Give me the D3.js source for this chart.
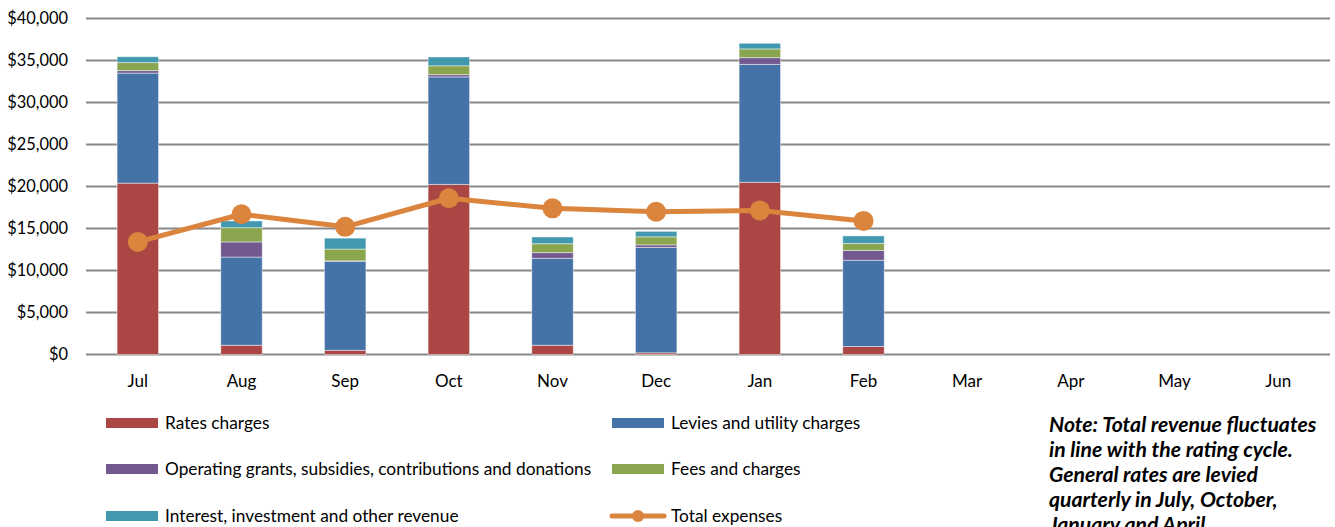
<!DOCTYPE html>
<html>
<head>
<meta charset="utf-8">
<script src="https://cdn.jsdelivr.net/npm/d3@7"></script>
<style>
  html, body { margin: 0; padding: 0; background: #fff; }
  svg { display: block; }
  text { font-family: Lato, "Open Sans", sans-serif; fill: #000; }
</style>
</head>
<body>
<svg id="chart" width="1335" height="527"></svg>
<script>
const months = ["Jul","Aug","Sep","Oct","Nov","Dec","Jan","Feb","Mar","Apr","May","Jun"];
const seriesNames = ["Rates charges","Levies and utility charges","Operating grants, subsidies, contributions and donations","Fees and charges","Interest, investment and other revenue"];
const ratesCharges   = [20400, 1100,  500, 20250, 1100,  200, 20500,  950, 0, 0, 0, 0];
const leviesUtility  = [13100,10500,10600, 12800,10350,12540, 14040,10270, 0, 0, 0, 0];
const operatingGrants= [  300, 1800,   50,   270,  680,  310,   800, 1160, 0, 0, 0, 0];
const feesCharges    = [  950, 1700, 1400,  1050, 1060,  960,  1040,  840, 0, 0, 0, 0];
const interestOther  = [  700,  800, 1300,  1050,  800,  650,   670,  900, 0, 0, 0, 0];
const totalExpenses  = [13400,16700,15200, 18600,17400,17000, 17150,15900, null, null, null, null];
const yTicks = [0,5000,10000,15000,20000,25000,30000,35000,40000];
const colors = ["#AA4643","#4572A7","#71588F","#89A54E","#4198AF"];
const lineColor = "#DB843D";
const noteLines = ["Note: Total revenue fluctuates","in line with the rating cycle.","General rates are levied","quarterly in July, October,","January and April."];

const svg = d3.select("#chart");
const pLeft = 86, pRight = 1330, pTop = 18.5, pBottom = 354.5;

const x = d3.scaleBand().domain(months).range([pLeft, pRight]).paddingInner(0.6).paddingOuter(0.3);
const y = d3.scaleLinear().domain([0, 40000]).range([pBottom, pTop]);

// gridlines
svg.append("g").selectAll("line").data(yTicks).join("line")
  .attr("x1", pLeft).attr("x2", pRight)
  .attr("y1", d => y(d)).attr("y2", d => y(d))
  .attr("stroke", "#878787").attr("stroke-width", 2);

// y axis labels
const yAxis = d3.axisLeft(y).tickValues(yTicks).tickSize(0).tickPadding(18)
  .tickFormat(d => "$" + d3.format(",")(d));
const gy = svg.append("g").attr("transform", `translate(${pLeft},0)`).call(yAxis);
gy.select(".domain").remove();
gy.selectAll("text").style("font-size", "16.4px").style("font-family", "Lato, sans-serif").attr("fill", "#000");

// x axis labels
const xAxis = d3.axisBottom(x).tickSize(0).tickPadding(20);
const gx = svg.append("g").attr("transform", `translate(0,${pBottom})`).call(xAxis);
gx.select(".domain").remove();
gx.selectAll("text").style("font-size", "17px").style("font-family", "Lato, sans-serif").attr("fill", "#000");

// stacked bars
const table = months.map((m, i) => ({
  month: m,
  s0: ratesCharges[i], s1: leviesUtility[i], s2: operatingGrants[i], s3: feesCharges[i], s4: interestOther[i]
}));
const stack = d3.stack().keys(["s0","s1","s2","s3","s4"])(table);
svg.append("g").selectAll("g").data(stack).join("g")
  .attr("fill", (d, i) => colors[i])
  .selectAll("rect").data(d => d.filter(p => p[1] - p[0] > 0)).join("rect")
  .attr("x", d => x(d.data.month))
  .attr("width", x.bandwidth())
  .attr("y", d => y(d[1]))
  .attr("height", d => y(d[0]) - y(d[1]))
  .attr("stroke", "rgba(255,255,255,0.45)")
  .attr("stroke-width", 1);

// expense line
const pts = months.map((m, i) => ({ m, v: totalExpenses[i] })).filter(d => d.v != null);
const line = d3.line().x(d => x(d.m) + x.bandwidth() / 2).y(d => y(d.v));
svg.append("path").datum(pts).attr("d", line)
  .attr("fill", "none").attr("stroke", lineColor).attr("stroke-width", 5).attr("stroke-linejoin", "round");
svg.append("g").selectAll("circle").data(pts).join("circle")
  .attr("cx", d => x(d.m) + x.bandwidth() / 2).attr("cy", d => y(d.v)).attr("r", 10)
  .attr("fill", lineColor);

// legend
const legendItems = [
  { name: seriesNames[0], color: colors[0], col: 0, row: 0 },
  { name: seriesNames[1], color: colors[1], col: 1, row: 0 },
  { name: seriesNames[2], color: colors[2], col: 0, row: 1 },
  { name: seriesNames[3], color: colors[3], col: 1, row: 1 },
  { name: seriesNames[4], color: colors[4], col: 0, row: 2 },
  { name: "Total expenses", color: lineColor, col: 1, row: 2, line: true }
];
const colX = [106, 612], rowY = [423, 469, 516];
const lg = svg.append("g").selectAll("g").data(legendItems).join("g")
  .attr("transform", d => `translate(${colX[d.col]},${rowY[d.row]})`);
lg.filter(d => !d.line).append("rect")
  .attr("x", 0).attr("y", -5).attr("width", 52).attr("height", 10).attr("fill", d => d.color);
const ll = lg.filter(d => d.line);
ll.append("line").attr("x1", 0).attr("x2", 52).attr("y1", 0).attr("y2", 0)
  .attr("stroke", lineColor).attr("stroke-width", 5).attr("stroke-linecap", "round");
ll.append("circle").attr("cx", 26).attr("cy", 0).attr("r", 6).attr("fill", lineColor);
lg.append("text").attr("x", 59).attr("y", 0).attr("dy", "0.35em")
  .style("font-size", "17.3px").text(d => d.name);

// note
svg.append("g").selectAll("text").data(noteLines).join("text")
  .attr("x", 1049).attr("y", (d, i) => 425 + i * 25).attr("dy", "0.35em")
  .style("font-size", "21.2px").style("font-weight", "bold").style("font-style", "italic")
  .text(d => d);
</script>
</body>
</html>
